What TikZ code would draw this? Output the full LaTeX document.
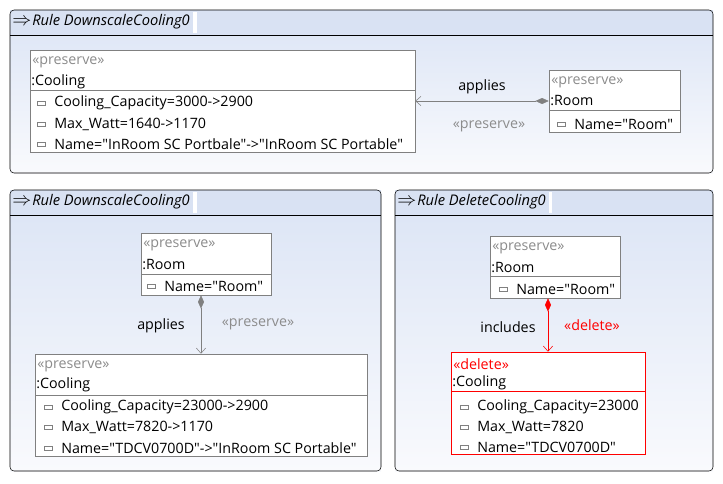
\documentclass[tikz,border=0pt]{standalone}
\usepackage{fontspec}
\setmainfont{Open Sans}[Ligatures=TeXOff]
\usetikzlibrary{arrows.meta,fit}

\definecolor{barblue}{RGB}{217,226,243}
\definecolor{bodytop}{RGB}{219,228,245}
\definecolor{bodybot}{RGB}{249,250,253}
\definecolor{linegray}{RGB}{128,128,128}
\definecolor{stgray}{RGB}{140,140,140}
\definecolor{delred}{RGB}{255,0,0}

% attribute line: marker and text
\newcommand{\attrline}[4]{%
  \draw[linegray] (#1,#2-2) rectangle +(8,4);
  \node[txt] (#4) at (#1+17,#2) {#3};}

\begin{document}
\begin{tikzpicture}[x=0.75pt,y=-0.75pt,
  font=\fontsize{10.7}{12}\selectfont,
  panel/.style={top color=bodytop, bottom color=bodybot},
  frame/.style={draw=black, rounded corners=3pt},
  obj/.style={draw=linegray, fill=white, inner sep=0pt},
  delobj/.style={draw=delred, fill=white, inner sep=0pt},
  txt/.style={anchor=west, inner sep=0pt},
  stereo/.style={txt, text=stgray},
  lbl/.style={inner sep=0pt},
  ttl/.style={txt, font=\fontsize{11}{12}\selectfont\itshape},
  keep/.style={linegray, {Diamond[length=10pt,width=4.5pt,fill=linegray]}-{Straight Barb[length=4pt,width=7pt]}},
  kill/.style={delred, {Diamond[length=10pt,width=4.5pt,fill=delred]}-{Straight Barb[length=4pt,width=7pt]}}]
\useasboundingbox (0,0) rectangle (723,483);
\fill[white] (0,0) rectangle (723,483);

% rule DownscaleCooling0, top
\fill[panel] (10,10) rectangle (713,173);
\begin{scope}
\clip[rounded corners=3pt] (10,10) rectangle (713,173);
\fill[barblue] (10,10) rectangle (713,35);
\end{scope}
\fill[white] (193,12) rectangle (197,33);
\draw[frame] (10,10) rectangle (713,173);
\draw (10,35) -- (713,35);
\node[txt, scale=1.3] (arr1) at (12,22) {$\Rightarrow$};
\node[ttl] (title1) at (32,22) {Rule DownscaleCooling0};

\node[obj, fit={(30,50) (415,152)}] (cool1) {};
\draw[linegray] (30,90) -- (416,90);
\node[stereo] (cool1st) at (32,62) {«preserve»};
\node[txt] (cool1nm) at (31,82) {:Cooling};
\attrline{37}{103}{Cooling\_Capacity=3000->2900}{cool1a}
\attrline{37}{124}{Max\_Watt=1640->1170}{cool1b}
\attrline{37}{144}{Name="InRoom SC Portbale"->"InRoom SC Portable"}{cool1c}

\node[obj, fit={(549,70) (680,132)}] (room1) {};
\draw[linegray] (549,110) -- (681,110);
\node[stereo] (room1st) at (551,82) {«preserve»};
\node[txt] (room1nm) at (550,101) {:Room};
\attrline{557}{124}{Name="Room"}{room1a}

\draw[keep] (room1.west) -- (cool1.east);
\node[lbl] (app1) at (482,87) {applies};
\node[lbl, text=stgray] (app1st) at (489,126) {«preserve»};

% rule DownscaleCooling0, bottom left
\fill[panel] (10,190) rectangle (381,471);
\begin{scope}
\clip[rounded corners=3pt] (10,190) rectangle (381,471);
\fill[barblue] (10,190) rectangle (381,215);
\end{scope}
\fill[white] (193,192) rectangle (197,213);
\draw[frame] (10,190) rectangle (381,471);
\draw (10,215) -- (381,215);
\node[txt, scale=1.3] (arr2) at (12,202) {$\Rightarrow$};
\node[ttl] (title2) at (32,202) {Rule DownscaleCooling0};

\node[obj, fit={(141,233) (271,295)}] (room2) {};
\draw[linegray] (141,274) -- (272,274);
\node[stereo] (room2st) at (143,245) {«preserve»};
\node[txt] (room2nm) at (142,264) {:Room};
\attrline{147}{286}{Name="Room"}{room2a}

\node[obj, fit={(35,354) (367,456)}] (cool2) {};
\draw[linegray] (35,395) -- (368,395);
\node[stereo] (cool2st) at (37,366) {«preserve»};
\node[txt] (cool2nm) at (36,385) {:Cooling};
\attrline{44}{407}{Cooling\_Capacity=23000->2900}{cool2a}
\attrline{44}{427}{Max\_Watt=7820->1170}{cool2b}
\attrline{44}{448}{Name="TDCV0700D"->"InRoom SC Portable"}{cool2c}

\draw[keep] (room2.south -| cool2.north) -- (cool2.north);
\node[lbl] (app2) at (161,326) {applies};
\node[lbl, text=stgray] (app2st) at (258,324) {«preserve»};

% rule DeleteCooling0
\fill[panel] (395,190) rectangle (713,471);
\begin{scope}
\clip[rounded corners=3pt] (395,190) rectangle (713,471);
\fill[barblue] (395,190) rectangle (713,215);
\end{scope}
\fill[white] (549,192) rectangle (552,213);
\draw[frame] (395,190) rectangle (713,471);
\draw (395,215) -- (713,215);
\node[txt, scale=1.3] (arr3) at (397,202) {$\Rightarrow$};
\node[ttl] (title3) at (417,202) {Rule DeleteCooling0};

\node[obj, fit={(490,236) (620,298)}] (room3) {};
\draw[linegray] (490,276) -- (621,276);
\node[stereo] (room3st) at (492,248) {«preserve»};
\node[txt] (room3nm) at (491,267) {:Room};
\attrline{499}{289}{Name="Room"}{room3a}

\node[delobj, fit={(451,352) (645,454)}] (cool3) {};
\draw[delred] (451,391) -- (646,391);
\node[txt, text=delred] (cool3st) at (453,364) {«delete»};
\node[txt] (cool3nm) at (452,383) {:Cooling};
\attrline{460}{407}{Cooling\_Capacity=23000}{cool3a}
\attrline{460}{427}{Max\_Watt=7820}{cool3b}
\attrline{460}{447}{Name="TDCV0700D"}{cool3c}

\draw[kill] (room3.south -| cool3.north) -- (cool3.north);
\node[lbl] (inc3) at (508,327) {includes};
\node[lbl, text=delred] (inc3st) at (592,325) {«delete»};
\end{tikzpicture}
\end{document}
